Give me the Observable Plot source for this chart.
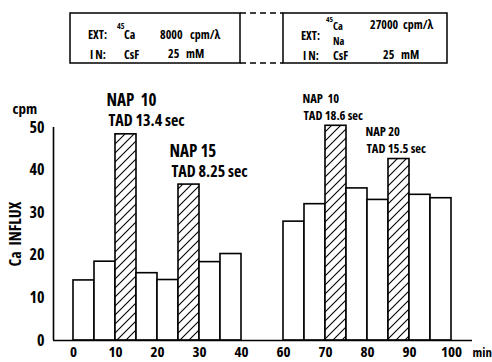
<!DOCTYPE html>
<html>
<head>
<meta charset="utf-8">
<script src="https://cdn.jsdelivr.net/npm/d3@7"></script>
<script src="https://cdn.jsdelivr.net/npm/@observablehq/plot@0.6"></script>
<style>
  html, body { margin: 0; padding: 0; background: #fff; }
  #chart { width: 492px; }
  #chart svg { display: block; }
  #chart text { font-stretch: 75%; }
</style>
</head>
<body>
<div id="chart"></div>
<script>
// ---- data ----
const binStart = [0, 5, 10, 15, 20, 25, 30, 35, 60, 65, 70, 75, 80, 85, 90, 95];   // min
const influx   = [14.1, 18.5, 48.4, 15.8, 14.2, 36.6, 18.4, 20.3, 27.9, 32.0, 50.4, 35.7, 33.0, 42.6, 34.2, 33.4]; // cpm
const napBins  = [10, 25, 70, 85];
const napName  = ["NAP  10", "NAP 15", "NAP  10", "NAP 20"];
const tadText  = ["TAD 13.4 sec", "TAD 8.25 sec", "TAD 18.6 sec", "TAD 15.5 sec"];
const xTicks   = [0, 10, 20, 30, 40, 60, 70, 80, 90, 100];
const yTicks   = [0, 10, 20, 30, 40, 50];
const binWidth = 5;
const breakFrom = 40, breakTo = 60;   // axis break: 60 drawn one tick after 40

const pos = t => (t >= breakTo ? t - (breakTo - breakFrom) + 10 : t);
const bars = binStart.map((s, i) => ({start: s, value: influx[i], nap: napBins.includes(s)}));
const labels = napBins.map((s, i) => ({start: s, value: influx[binStart.indexOf(s)], nap: napName[i], tad: tadText[i]}));
const leftLabels = labels.filter(d => d.start < breakFrom);
const rightLabels = labels.filter(d => d.start >= breakTo);

const font = '"Open Sans", "DejaVu Sans Condensed", sans-serif';
const xDomain = [-4.76, 95];

// ---- header boxes (experimental conditions) ----
const header = d3.select("#chart").append("svg")
  .attr("width", 492).attr("height", 70)
  .attr("font-family", font).attr("font-weight", "bold").attr("font-size", 12).attr("fill", "black");
header.append("rect").attr("x", 70).attr("y", 13).attr("width", 170).attr("height", 50)
  .attr("fill", "none").attr("stroke", "black").attr("stroke-width", 1.5);
header.append("rect").attr("x", 283).attr("y", 13).attr("width", 164).attr("height", 50)
  .attr("fill", "none").attr("stroke", "black").attr("stroke-width", 1.5);
[13, 63].forEach(y => header.append("line").attr("x1", 240).attr("x2", 283).attr("y1", y).attr("y2", y)
  .attr("stroke", "black").attr("stroke-width", 1.3).attr("stroke-dasharray", "6,4"));
const ht = (x, y, s, size) => header.append("text").attr("x", x).attr("y", y).attr("font-size", size || 12).text(s);
ht(88, 39, "EXT:"); ht(117, 29, "45", 8); ht(124, 39, "Ca"); ht(160, 39, "8000"); ht(190, 39, "cpm/λ");
ht(90, 59, "I N:"); ht(124, 59, "CsF"); ht(168, 58, "25"); ht(186, 58, "mM");
ht(301, 40, "EXT:"); ht(326, 22, "45", 7.5); ht(333, 30, "Ca", 10.5); ht(333, 45, "Na", 10.5); ht(370, 29, "27000"); ht(403, 29, "cpm/λ");
ht(303, 60, "I N:"); ht(333, 60, "CsF"); ht(383, 59, "25"); ht(401, 59, "mM");

// ---- chart ----
const plot = Plot.plot({
  width: 492,
  height: 292,
  marginLeft: 53,
  marginRight: 20,
  marginTop: 57,
  marginBottom: 22,
  style: {fontFamily: font, fontSize: "15px", fontWeight: "bold", color: "black", background: "white", overflow: "visible"},
  x: {domain: xDomain},
  y: {domain: [0, 50]},
  marks: [
    Plot.rectY(bars, {
      x1: d => pos(d.start), x2: d => pos(d.start + binWidth), y: "value",
      fill: d => (d.nap ? "url(#hatch)" : "white"), stroke: "black", strokeWidth: 1.6
    }),
    Plot.ruleY([0], {stroke: "black", strokeWidth: 1.6}),
    Plot.ruleX([xDomain[0]], {y1: 0, y2: 50, stroke: "black", strokeWidth: 1.6}),
    Plot.axisY({ticks: yTicks, tickSize: 0, tickPadding: 9, fontSize: 16, label: "Ca  INFLUX", labelAnchor: "center", labelArrow: "none", labelOffset: 44}),
    Plot.axisX({ticks: xTicks.map(pos), tickFormat: d => xTicks[xTicks.map(pos).indexOf(d)], tickSize: 0, tickPadding: 6, fontSize: 15, label: null}),
    Plot.text(["min"], {frameAnchor: "bottom-right", textAnchor: "start", lineAnchor: "top", dx: 0, dy: 7, fontSize: 13}),
    Plot.text(["cpm"], {frameAnchor: "top-left", textAnchor: "start", lineAnchor: "bottom", dx: -41, dy: -14, fontSize: 15}),
    Plot.text(leftLabels, {x: d => pos(d.start), y: "value", text: "nap", textAnchor: "start", lineAnchor: "bottom", dx: -9, dy: -28, fontSize: 17}),
    Plot.text(leftLabels, {x: d => pos(d.start), y: "value", text: "tad", textAnchor: "start", lineAnchor: "bottom", dx: -7, dy: -8, fontSize: 16}),
    Plot.text(rightLabels, {x: d => pos(d.start), y: "value", text: "nap", textAnchor: "start", lineAnchor: "bottom", dx: -23, dy: -23, fontSize: 12.5}),
    Plot.text(rightLabels, {x: d => pos(d.start), y: "value", text: "tad", textAnchor: "start", lineAnchor: "bottom", dx: -22, dy: -6, fontSize: 12.5})
  ]
});
d3.select(plot).insert("defs", ":first-child").html(
  '<pattern id="hatch" patternUnits="userSpaceOnUse" width="9" height="9">' +
  '<rect width="9" height="9" fill="white"/>' +
  '<path d="M-1,1 l2,-2 M0,9 l9,-9 M8,10 l2,-2" stroke="black" stroke-width="1.1"/></pattern>');
document.getElementById("chart").appendChild(plot);
</script>
</body>
</html>
